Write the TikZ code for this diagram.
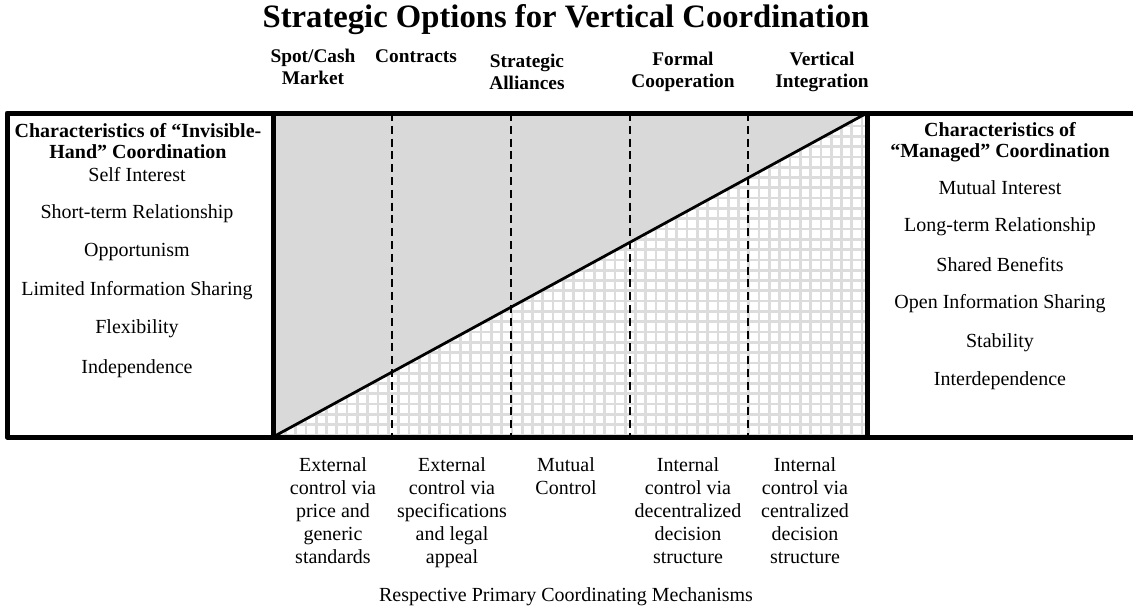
\documentclass[tikz,border=0pt]{standalone}
\usepackage{fontspec}
\setmainfont{Liberation Serif}
\definecolor{shadegray}{RGB}{217,217,217}
\definecolor{gridgray}{RGB}{220,220,220}
\tikzset{
  thickrule/.style={line width=3.75pt, line join=round, line cap=butt},
  colsep/.style={line width=1.5pt, dash pattern=on 6pt off 3.6pt},
  diag/.style={line width=2.1pt},
  body/.style={font=\fontsize{15}{17}\selectfont, inner sep=0pt, align=center},
  head/.style={font=\fontsize{14.5}{17}\selectfont\bfseries, inner sep=0pt, align=center},
  boxhead/.style={font=\fontsize{15}{15.5}\selectfont\bfseries, inner sep=0pt, align=center},
  mech/.style={font=\fontsize{15}{17.25}\selectfont, inner sep=0pt, align=center, anchor=north},
}
\begin{document}
\begin{tikzpicture}[x=0.75pt,y=-0.75pt]
\useasboundingbox (0,0) rectangle (1133,612);
% key coordinates
\coordinate (TL) at (7,113);
\coordinate (BL) at (7,437);
\coordinate (TR) at (1133,113);
\coordinate (BR) at (1133,437);
\coordinate (ML) at (273,113);
\coordinate (MLb) at (273,437);
\coordinate (MR) at (867,113);
\coordinate (MRb) at (867,437);
% fills
\fill[shadegray] (ML) -- (MR) -- (MLb) -- cycle;
\fill[white] (MLb) -- (MR) -- (MRb) -- cycle;
\begin{scope}
  \clip (MLb) -- (MR) -- (MRb) -- cycle;
  \foreach \i in {0,...,58} {
    \draw[gridgray, line width=2pt] (275+\i*10.3,113) -- ++(0,324);
  }
  \foreach \j in {0,...,32} {
    \draw[gridgray, line width=2pt] (273,435-\j*10.3) -- ++(594,0);
  }
\end{scope}
% column separators
\foreach \x [count=\k] in {392,511,630,748} {
  \coordinate (st\k) at (\x,113);
  \coordinate (sb\k) at (\x,437);
  \draw[colsep] (st\k) -- (sb\k);
}
% diagonal
\draw[diag] (MLb) -- (MR);
% thick frame
\draw[thickrule] (TR) -- (TL) -- (BL) -- (BR);
\draw[thickrule] (ML) -- (MLb);
\draw[thickrule] (MR) -- (MRb);
% title
\node[font=\fontsize{24.5}{28}\selectfont\bfseries, inner sep=0pt] (title) at (566,20) {Strategic Options for Vertical Coordination};
% column heads
\node[head] (h1) at (313,67) {Spot/Cash\\Market};
\node[head] (h2) at (416,56) {Contracts};
\node[head] (h3) at (527,72) {Strategic\\Alliances};
\node[head] (h4) at (683,72) {Formal\\Cooperation};
\node[head] (h5) at (822,72) {Vertical\\Integration};
% left box
\node[boxhead] (lh) at (138,141) {Characteristics of “Invisible-\\Hand” Coordination};
\node[body] (l1) at (137,175) {Self Interest};
\node[body] (l2) at (137,214) {Short-term Relationship};
\node[body] (l3) at (137,252) {Opportunism};
\node[body] (l4) at (137,291) {Limited Information Sharing};
\node[body] (l5) at (137,329) {Flexibility};
\node[body] (l6) at (137,369) {Independence};
% right box
\node[boxhead] (rh) at (1000,142) {Characteristics of\\“Managed” Coordination};
\node[body] (r1) at (1000,188) {Mutual Interest};
\node[body] (r2) at (1000,227) {Long-term Relationship};
\node[body] (r3) at (1000,265) {Shared Benefits};
\node[body] (r4) at (1000,304) {Open Information Sharing};
\node[body] (r5) at (1000,343) {Stability};
\node[body] (r6) at (1000,381) {Interdependence};
% mechanisms
\node[mech] (m1) at (333,457) {External\\control via\\price and\\generic\\standards};
\node[mech] (m2) at (452,457) {External\\control via\\specifications\\and legal\\appeal};
\node[mech] (m3) at (566,457) {Mutual\\Control};
\node[mech] (m4) at (688,457) {Internal\\control via\\decentralized\\decision\\structure};
\node[mech] (m5) at (805,457) {Internal\\control via\\centralized\\decision\\structure};
\node[font=\fontsize{15}{18}\selectfont, inner sep=0pt] (foot) at (566,597) {Respective Primary Coordinating Mechanisms};
\end{tikzpicture}
\end{document}
